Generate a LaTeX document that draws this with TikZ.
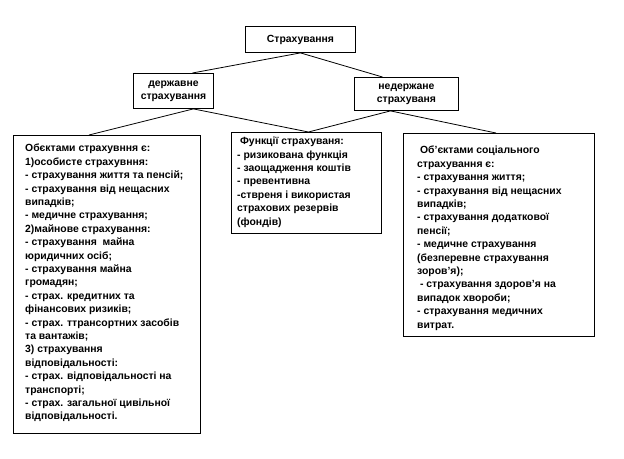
\documentclass[tikz,border=0pt]{standalone}
\usepackage{fontspec}
\setmainfont{Liberation Sans}
\begin{document}
\begin{tikzpicture}[x=1pt,y=-1pt,
  box/.style={draw=black,line width=0.9pt,rectangle,inner sep=0pt,anchor=north west},
  txt/.style={anchor=north west,inner sep=0pt,align=left,font=\fontsize{10.4}{13.4}\selectfont\bfseries},
  ctxt/.style={inner sep=0pt,align=center,font=\fontsize{10.4}{13}\selectfont\bfseries},
  conn/.style={draw=black,line width=0.8pt}]
\useasboundingbox[fill=white] (0,0) rectangle (624,458);
% boxes
\node[box,minimum width=110pt,minimum height=26pt] (top) at (245,26) {};
\node[box,minimum width=80pt,minimum height=35pt] (ld) at (133,73) {};
\node[box,minimum width=104pt,minimum height=33pt] (rd) at (354,77) {};
\node[box,minimum width=187pt,minimum height=298pt] (lb) at (13,135) {};
\node[box,minimum width=150pt,minimum height=101pt] (mb) at (231,132) {};
\node[box,minimum width=191pt,minimum height=203pt] (rb) at (403,133) {};
% texts
\node[ctxt] (topt) at (top.center) {Страхування};
\node[ctxt] (ldt) at (ld.center) {державне\\страхування};
\node[ctxt] (rdt) at (rd.center) {недержане\\страхуваня};
\node[txt] (lbt) at (25,144) {Обєктами страхувння є:\\
1)особисте страхувння:\\
- страхування життя та пенсій;\\
- страхування від нещасних\\
випадків;\\
- медичне страхування;\\
2)майнове страхування:\\
- страхування\ \ майна\\
юридичних осіб;\\
- страхування майна\\
громадян;\\
- страх. кредитних та\\
фінансових ризиків;\\
- страх. ттрансортних засобів\\
та вантажів;\\
3) страхування\\
відповідальності:\\
- страх. відповідальності на\\
транспорті;\\
- страх. загальної цивільної\\
відповідальності.};
\node[txt] (mbt) at (237,137) {\ Функції страхуваня:\\
- ризикована функція\\
- заощадження коштів\\
- превентивна\\
-ствреня і використая\\
страхових резервів\\
(фондів)};
\node[txt] (rbt) at (417,146) {\ Об'єктами соціального\\
страхування є:\\
- страхування життя;\\
- страхування від нещасних\\
випадків;\\
- страхування додаткової\\
пенсії;\\
- медичне страхування\\
(безперевне страхування\\
зоров'я);\\
\ - страхування здоров'я на\\
випадок хвороби;\\
- страхування медичних\\
витрат.};
% connectors
\draw[conn] (top.south) -- ([xshift=19pt]ld.north);
\draw[conn] (top.south) -- ([xshift=-24pt]rd.north);
\draw[conn] ([xshift=20pt]ld.south) -- ([xshift=-18pt]lb.north);
\draw[conn] ([xshift=20pt]ld.south) -- ([xshift=2pt]mb.north);
\draw[conn] ([xshift=-16pt]rd.south) -- ([xshift=2pt]mb.north);
\draw[conn] ([xshift=-16pt]rd.south) -- ([xshift=-3pt]rb.north);
\end{tikzpicture}
\end{document}
